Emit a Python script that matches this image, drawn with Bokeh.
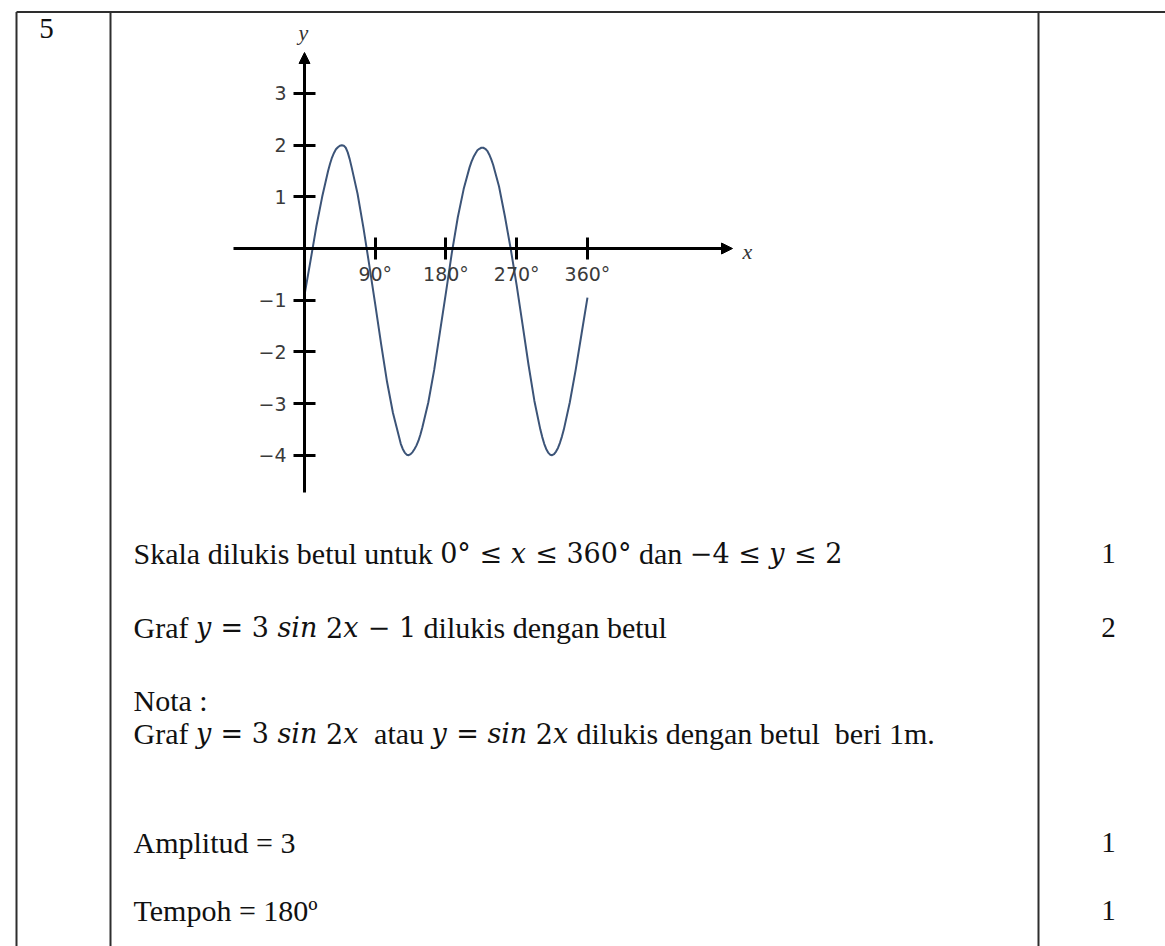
from bokeh.plotting import figure
from bokeh.models import (LinearAxis, FixedTicker, Range1d, Arrow, NormalHead, Label,
                          ColumnDataSource)
from bokeh.core.properties import value
from bokeh.embed import file_html
from bokeh.resources import INLINE

# ---- curve y = 3 sin 2x - 1 ----
x_deg = [0, 7.5, 15, 22.5, 30, 32.5, 35, 37.5, 40, 42.5, 45, 47.5, 50, 52.5, 55, 57.5, 60,
         67.5, 75, 82.5, 90, 97.5, 105, 112.5,
         120, 122.5, 125, 127.5, 130, 132.5, 135, 137.5, 140, 142.5, 145, 147.5, 150,
         157.5, 165, 172.5, 180, 187.5, 195, 202.5,
         210, 212.5, 215, 217.5, 220, 222.5, 225, 227.5, 230, 232.5, 235, 237.5, 240,
         247.5, 255, 262.5, 270, 277.5, 285, 292.5,
         300, 302.5, 305, 307.5, 310, 312.5, 315, 317.5, 320, 322.5, 325, 327.5, 330,
         337.5, 345, 352.5, 360]
y_val = [-0.9, -0.25, 0.42, 1.0, 1.5, 1.64, 1.76, 1.85, 1.92, 1.96, 1.99, 2.0, 1.99, 1.95, 1.86, 1.73, 1.57,
         1.06, 0.4, -0.33, -1.08, -1.85, -2.58, -3.18,
         -3.63, -3.78, -3.88, -3.95, -3.99, -4.0, -3.98, -3.94, -3.88, -3.81, -3.72, -3.6, -3.46,
         -2.98, -2.35, -1.6, -0.85, -0.08, 0.6, 1.15,
         1.57, 1.68, 1.77, 1.84, 1.9, 1.93, 1.95, 1.95, 1.93, 1.89, 1.82, 1.73, 1.62,
         1.2, 0.62, -0.02, -0.72, -1.48, -2.25, -2.95,
         -3.5, -3.65, -3.78, -3.88, -3.95, -3.99, -4.0, -3.98, -3.93, -3.86, -3.76, -3.64, -3.5,
         -2.98, -2.35, -1.65, -0.95]

x_ticks = [90, 180, 270, 360]
x_tick_labels = ["90°", "180°", "270°", "360°"]
y_ticks = [3, 2, 1, -1, -2, -3, -4]
y_tick_labels = ["3", "2", "1", "−1", "−2", "−3", "−4"]

# marking scheme rows: segments tagged r = text, m = maths, i = maths italic
rows = [
    ([("Skala dilukis betul untuk ", "r"), ("0°", "m"), (" ≤ ", "m"), ("x", "i"),
      (" ≤ 360°", "m"), (" dan ", "r"), ("−4 ≤ ", "m"), ("y", "i"), (" ≤ 2", "m")], "1"),
    ([("Graf ", "r"), ("y", "i"), (" = 3 ", "m"), ("sin", "i"), (" 2", "m"),
      ("x", "i"), (" − 1", "m"), (" dilukis dengan betul", "r")], "2"),
    ([("Nota :", "r")], ""),
    ([("Graf ", "r"), ("y", "i"), (" = 3 ", "m"), ("sin", "i"), (" 2", "m"), ("x", "i"),
      ("  atau ", "r"), ("y", "i"), (" = ", "m"), ("sin", "i"), (" 2", "m"), ("x", "i"),
      (" dilukis dengan betul", "r"), ("  beri 1m.", "r")], ""),
    ([("Amplitud = 3", "r")], "1"),
    ([("Tempoh = 180º", "r")], "1"),
]
question_no = "5"

# ---- page geometry (pixels) ----
W, H = 1165, 946
ORIGIN_PX = (304.0, 248.0)
PX_PER_DEG = 0.786
PX_PER_UNIT = 51.67


def gx(px):
    return (px - ORIGIN_PX[0]) / PX_PER_DEG


def gy(py):
    return (ORIGIN_PX[1] - py) / PX_PER_UNIT


p = figure(width=W, height=H, output_backend="svg", toolbar_location=None,
           x_range=Range1d(gx(0), gx(W)), y_range=Range1d(gy(H), gy(0)),
           x_axis_type=None, y_axis_type=None, min_border=0,
           background_fill_color="white", border_fill_color="white",
           outline_line_color=None)
p.xgrid.visible = False
p.ygrid.visible = False

# ---- table rules ----
rule = dict(line_color="#2e2e2e", line_width=2)
p.segment(x0=[gx(16)], y0=[gy(11.5)], x1=[gx(W + 5)], y1=[gy(11.5)], **rule)
for vx in (16, 110, 1038):
    p.segment(x0=[gx(vx)], y0=[gy(11.5)], x1=[gx(vx)], y1=[gy(H + 5)], **rule)

# ---- cross axes through the origin ----
axis_style = dict(axis_line_width=3, axis_line_color="black",
                  major_tick_line_width=3, major_tick_in=11, major_tick_out=11,
                  minor_tick_out=0, minor_tick_in=0,
                  major_label_text_font="DejaVu Sans", major_label_text_font_size="19px",
                  major_label_text_color="#3a3a3a")
xaxis = LinearAxis(fixed_location=0, bounds=(gx(233), gx(724)),
                   ticker=FixedTicker(ticks=x_ticks),
                   major_label_overrides=dict(zip(x_ticks, x_tick_labels)),
                   major_label_standoff=3, **axis_style)
yaxis = LinearAxis(fixed_location=0, bounds=(gy(492), gy(60)),
                   ticker=FixedTicker(ticks=y_ticks),
                   major_label_overrides=dict(zip(y_ticks, y_tick_labels)),
                   major_label_standoff=7, **axis_style)
p.add_layout(xaxis, "below")
p.add_layout(yaxis, "left")

head = dict(size=11, fill_color="black", line_color="black", line_width=1)
p.add_layout(Arrow(end=NormalHead(**head), x_start=gx(715), y_start=0, x_end=gx(732), y_end=0,
                   line_width=3, line_color="black"))
p.add_layout(Arrow(end=NormalHead(**head), x_start=0, y_start=gy(70), x_end=0, y_end=gy(52),
                   line_width=3, line_color="black"))

for txt, px, py in (("x", 747, 251), ("y", 303, 32)):
    p.add_layout(Label(x=gx(px), y=gy(py), text=txt, text_font="Liberation Serif",
                       text_font_style="italic", text_font_size="22px", text_color="#333",
                       text_align="center", text_baseline="middle"))

# ---- the curve ----
p.line(x_deg, y_val, line_color="#3c5478", line_width=2, line_join="round")

# ---- marking scheme text ----
# advance widths per 1000 em
TIMES = {' ': 250, ':': 278, '.': 250, '=': 564, 'º': 310, '°': 400,
         'A': 722, 'G': 722, 'N': 722, 'S': 556, 'T': 611,
         'a': 444, 'b': 500, 'd': 500, 'e': 444, 'f': 333, 'g': 500, 'h': 500, 'i': 278,
         'k': 500, 'l': 278, 'm': 778, 'n': 500, 'o': 500, 'p': 500, 'r': 333, 's': 389,
         't': 278, 'u': 500}
DJV = {' ': 318, '=': 838, '−': 838, '≤': 838, '°': 500}
DJV_IT = {'x': 592, 'y': 592, 's': 513, 'i': 320, 'n': 644}

FS_TEXT, FS_MATH = 30, 27
FONT = {"r": "Liberation Serif", "m": "DejaVu Serif", "i": "DejaVu Serif"}
SIZE = {"r": FS_TEXT, "m": FS_MATH, "i": FS_MATH}


def width(text, kind):
    if kind == "r":
        em = sum(TIMES.get(c, 500) for c in text)
    elif kind == "m":
        em = sum(DJV.get(c, 636) for c in text)
    else:
        em = sum(DJV_IT.get(c, 592) for c in text)
    return em * SIZE[kind] / 1000.0


row_y = [553, 627, 700, 733, 842, 910]
cols = dict(x=[], y=[], text=[], font=[], size=[], style=[])
for (segs, mark), yy in zip(rows, row_y):
    cx = 133.0
    for txt, kind in segs:
        lead = txt[:len(txt) - len(txt.lstrip(" "))]
        cols["x"].append(gx(cx + width(lead, kind)))
        cols["y"].append(gy(yy))
        cols["text"].append(txt.strip(" "))
        cols["font"].append(FONT[kind])
        cols["size"].append(f"{SIZE[kind]}px")
        cols["style"].append("italic" if kind == "i" else "normal")
        cx += width(txt, kind)
p.text(x="x", y="y", text="text", text_font="font", text_font_size="size",
       text_font_style="style", source=ColumnDataSource(cols),
       text_color="#111", text_baseline="middle", text_align="left")

serif = value("Liberation Serif")
mk_y = [gy(yy) for (s, m), yy in zip(rows, row_y) if m]
mk_t = [m for s, m in rows if m]
p.text(x=[gx(1108)] * len(mk_t), y=mk_y, text=mk_t, text_font=serif, text_font_size="29px",
       text_color="#111", text_baseline="middle", text_align="center")
p.text(x=[gx(46)], y=[gy(28)], text=[question_no], text_font=serif, text_font_size="29px",
       text_color="#111", text_baseline="middle", text_align="center")

open("out.html", "w").write(file_html(p, INLINE))
